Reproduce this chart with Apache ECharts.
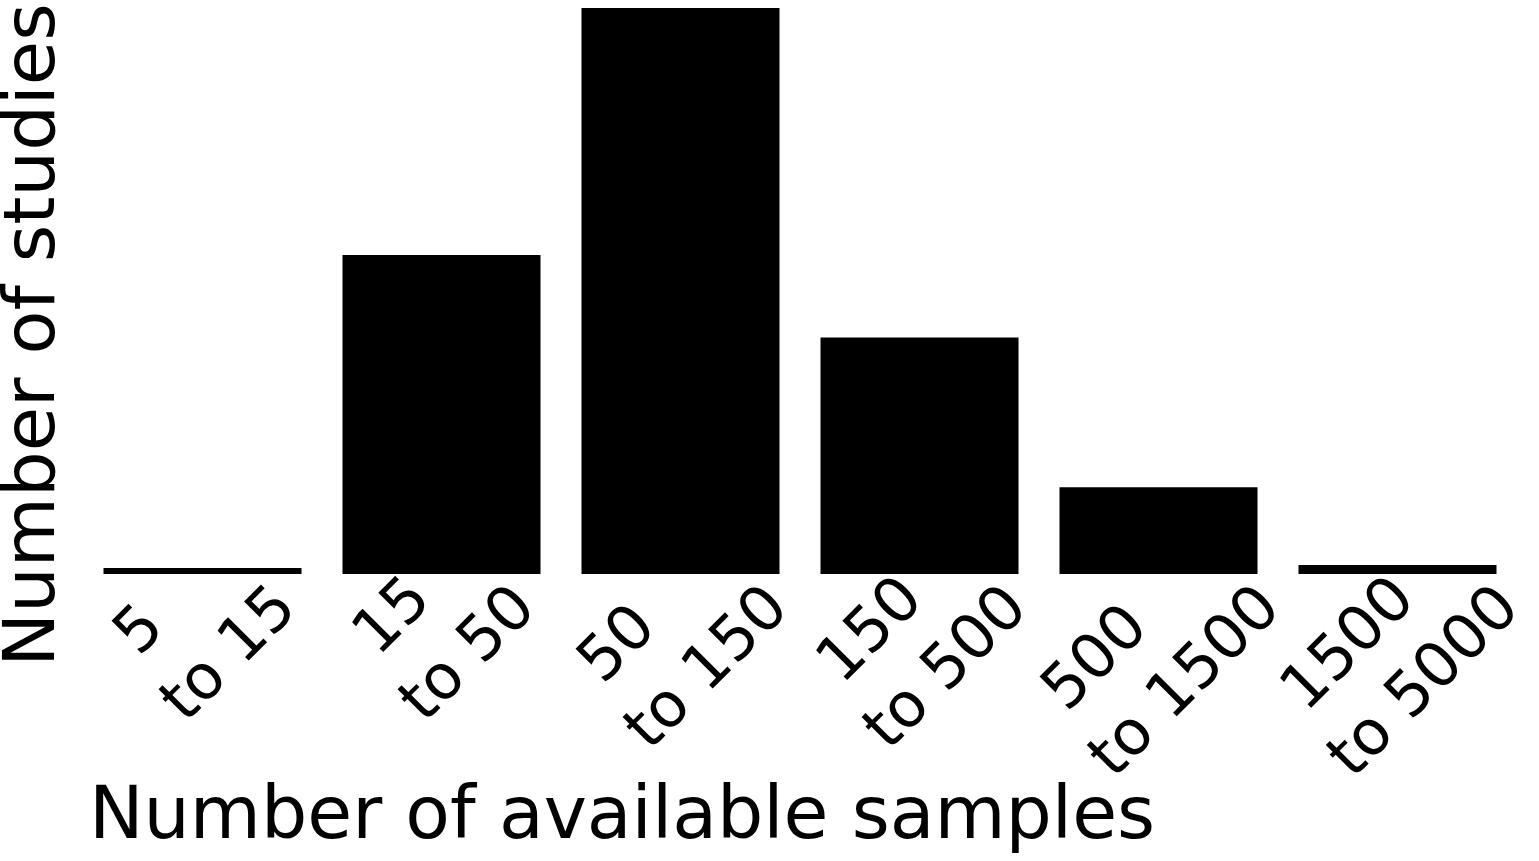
<!DOCTYPE html>
<html>
<head>
<meta charset="utf-8">
<script src="https://cdn.jsdelivr.net/npm/echarts@6/dist/echarts.min.js"></script>
<style>
	html, body {
		margin: 0;
		padding: 0;
		background: #fff;
	}

	#chart {
		width: 1539px;
		height: 861px;
	}
</style>
</head>
<body>
<div id="chart"></div>
<script>
	// bins of sample counts and how many studies fall in each
	var binLow = [5, 15, 50, 150, 500, 1500];
	var binHigh = [15, 50, 150, 500, 1500, 5000];
	var studies = [2, 106.5, 189, 79, 29, 3];
	var yMax = 189;

	var FONT = 'DejaVu Sans';
	var LABEL_SIZE = 62;
	var LABEL_LH = 80;
	var FIRST_INDENT = 14;

	var categories = binLow.map(function(lo, i) {
		return lo + '\nto ' + binHigh[i];
	});

	// measure label lines so the rotated block can be pushed below the axis
	var ctx = document.createElement('canvas').getContext('2d');
	ctx.font = LABEL_SIZE + 'px "' + FONT + '"';

	var axisData = categories.map(function(cat) {
		var lines = cat.split('\n');
		var w = Math.max(ctx.measureText(lines[0]).width + FIRST_INDENT, ctx.measureText(lines[1]).width);
		var p = (w + 2 * LABEL_LH) / 2;
		return {
			value: cat,
			textStyle: {
				align: 'center',
				verticalAlign: 'middle',
				padding: [p, p, 0, 0]
			}
		};
	});

	var chart = echarts.init(document.getElementById('chart'));

	var option = {
		animation: false,
		backgroundColor: '#fff',
		grid: {
			left: 83,
			right: 22,
			top: 8,
			bottom: 287,
			containLabel: false,
			outerBoundsMode: 'none'
		},
		xAxis: {
			type: 'category',
			data: axisData,
			name: 'Number of available samples',
			nameLocation: 'middle',
			nameGap: 245,
			nameMoveOverlap: false,
			nameTextStyle: {
				fontFamily: FONT,
				fontSize: 73,
				color: '#000',
				align: 'center',
				verticalAlign: 'middle',
				padding: [0, 356, 0, 0]
			},
			axisLine: { show: false },
			axisTick: { show: false },
			axisLabel: {
				interval: 0,
				rotate: 45,
				margin: -60,
				align: 'center',
				verticalAlign: 'middle',
				fontFamily: FONT,
				fontSize: LABEL_SIZE,
				lineHeight: LABEL_LH,
				color: '#000',
				formatter: function(value) {
					var lines = value.split('\n');
					return '{a|' + lines[0] + '}\n{b|' + lines[1] + '}';
				},
				rich: {
					a: {
						fontFamily: FONT,
						fontSize: LABEL_SIZE,
						lineHeight: LABEL_LH,
						color: '#000',
						align: 'left',
						padding: [0, 0, 0, FIRST_INDENT]
					},
					b: {
						fontFamily: FONT,
						fontSize: LABEL_SIZE,
						lineHeight: LABEL_LH,
						color: '#000',
						align: 'left'
					}
				}
			}
		},
		yAxis: {
			type: 'value',
			min: 0,
			max: yMax,
			name: 'Number of studies',
			nameLocation: 'middle',
			nameRotate: 90,
			nameGap: 48,
			nameMoveOverlap: false,
			nameTextStyle: {
				fontFamily: FONT,
				fontSize: 72,
				color: '#000',
				align: 'center',
				verticalAlign: 'middle',
				padding: [0, 88, 0, 0]
			},
			axisLine: { show: false },
			axisTick: { show: false },
			axisLabel: { show: false },
			splitLine: { show: false }
		},
		series: [{
			type: 'bar',
			data: studies,
			barWidth: 198,
			itemStyle: {
				color: '#000'
			}
		}]
	};

	chart.setOption(option);
</script>
</body>
</html>
